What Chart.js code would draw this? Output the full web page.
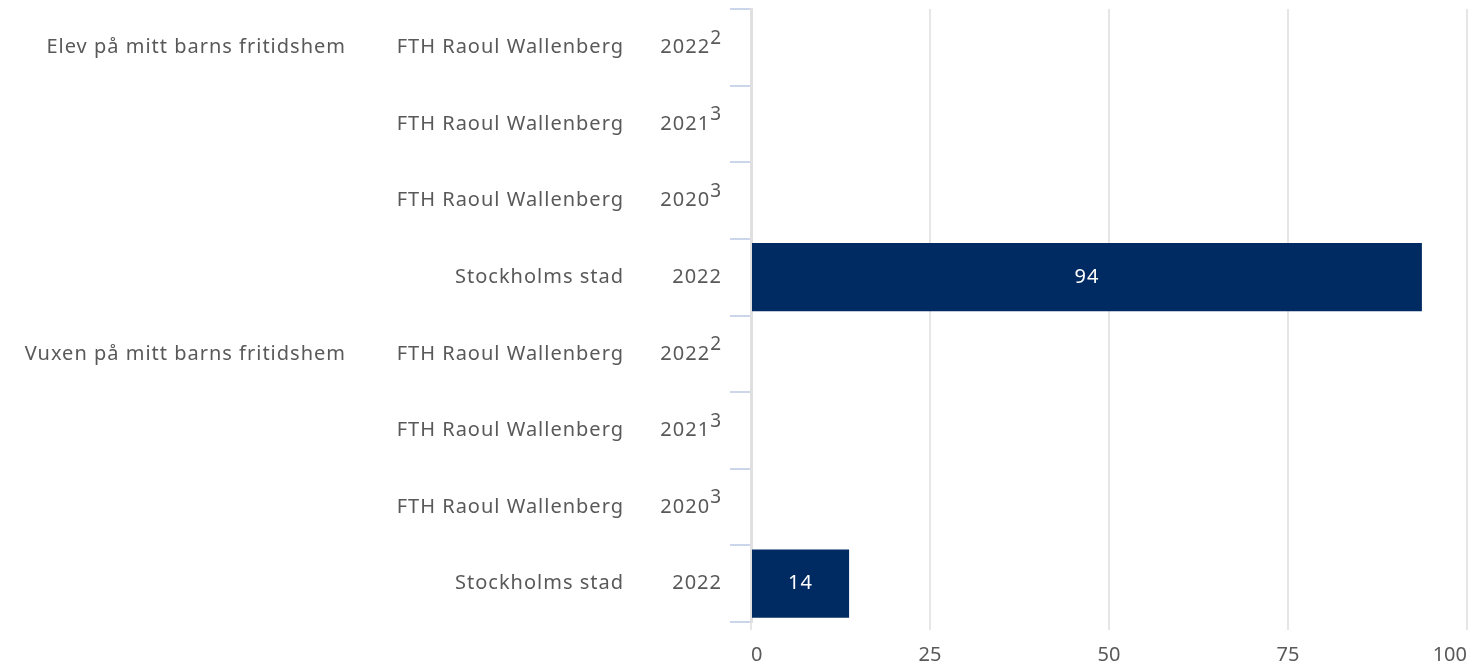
<!DOCTYPE html>
<html>
<head>
<meta charset="utf-8">
<script src="https://cdn.jsdelivr.net/npm/chart.js@4"></script>
<style>
    html, body { margin: 0; padding: 0; background: #ffffff; }
    #wrap { width: 1476px; height: 668px; position: relative; }
</style>
</head>
<body>
<div id="wrap"><canvas id="chart"></canvas></div>
<script>
// 数据
const groups = ['Elev på mitt barns fritidshem', '', '', '', 'Vuxen på mitt barns fritidshem', '', '', ''];
const units = ['FTH Raoul Wallenberg', 'FTH Raoul Wallenberg', 'FTH Raoul Wallenberg', 'Stockholms stad',
    'FTH Raoul Wallenberg', 'FTH Raoul Wallenberg', 'FTH Raoul Wallenberg', 'Stockholms stad'];
const years = ['2022', '2021', '2020', '2022', '2022', '2021', '2020', '2022'];
const notes = ['2', '3', '3', '', '2', '3', '3', ''];
const values = [null, null, null, 93.7, null, null, null, 13.7];
const valueLabels = ['', '', '', '94', '', '', '', '14'];
const xTicks = [0, 25, 50, 75, 100];

const FONT = '"Noto Sans", sans-serif';
const TEXT = '#595959';

// 左侧三列标签 + 柱内数值
const labelPlugin = {
    id: 'labels',
    afterDraw(chart) {
        const ctx = chart.ctx;
        const y = chart.scales.y;
        ctx.save();
        ctx.textBaseline = 'middle';
        if ('letterSpacing' in ctx) ctx.letterSpacing = '1px';
        years.forEach((yr, i) => {
            const py = y.getPixelForValue(i);
            ctx.fillStyle = TEXT;
            ctx.font = '20px ' + FONT;
            ctx.textAlign = 'right';
            if (groups[i]) ctx.fillText(groups[i], 346, py);
            ctx.fillText(units[i], 624, py);
            // 年份 + 上标
            const w1 = ctx.measureText(yr).width;
            ctx.font = '19px ' + FONT;
            const w2 = notes[i] ? ctx.measureText(notes[i]).width : 0;
            const x0 = 722 - w1 - w2;
            ctx.textAlign = 'left';
            ctx.font = '20px ' + FONT;
            ctx.fillText(yr, x0, py);
            if (notes[i]) {
                ctx.font = '19px ' + FONT;
                ctx.fillText(notes[i], x0 + w1, py - 9);
            }
        });
        // 数值标签
        const meta = chart.getDatasetMeta(0);
        ctx.fillStyle = '#ffffff';
        ctx.font = '20px ' + FONT;
        ctx.textAlign = 'center';
        meta.data.forEach((bar, i) => {
            if (values[i] == null) return;
            ctx.fillText(valueLabels[i], (bar.base + bar.x) / 2, bar.y);
        });
        ctx.restore();
    }
};

const ctx = document.getElementById('chart').getContext('2d');
new Chart(ctx, {
    type: 'bar',
    data: {
        labels: years.map((_, i) => i),
        datasets: [{
            data: values,
            backgroundColor: '#002b62',
            borderWidth: 0,
            barPercentage: 0.89,
            categoryPercentage: 1
        }]
    },
    options: {
        indexAxis: 'y',
        responsive: true,
        maintainAspectRatio: false,
        animation: false,
        layout: { padding: { top: 9, right: 9, left: 0, bottom: 0 } },
        plugins: {
            legend: { display: false },
            tooltip: { enabled: false }
        },
        scales: {
            x: {
                min: 0,
                max: 100,
                afterBuildTicks: s => { s.ticks = xTicks.map(v => ({ value: v })); },
                afterFit: s => { s.height = 46; s.paddingRight = 0; s.paddingLeft = 0; },
                ticks: {
                    color: TEXT,
                    font: { family: FONT, size: 20 },
                    padding: 13,
                    align: 'inner'
                },
                grid: { color: '#e6e6e6', lineWidth: 2, tickLength: 8, drawTicks: true },
                border: { display: false }
            },
            y: {
                offset: true,
                afterFit: s => { s.width = 751; },
                ticks: { display: false },
                grid: {
                    offset: true,
                    drawOnChartArea: false,
                    drawTicks: true,
                    tickLength: 21,
                    color: '#ccd6eb',
                    lineWidth: 2
                },
                border: { display: true, color: '#e0e0e0', width: 3 }
            }
        }
    },
    plugins: [labelPlugin]
});
</script>
</body>
</html>
